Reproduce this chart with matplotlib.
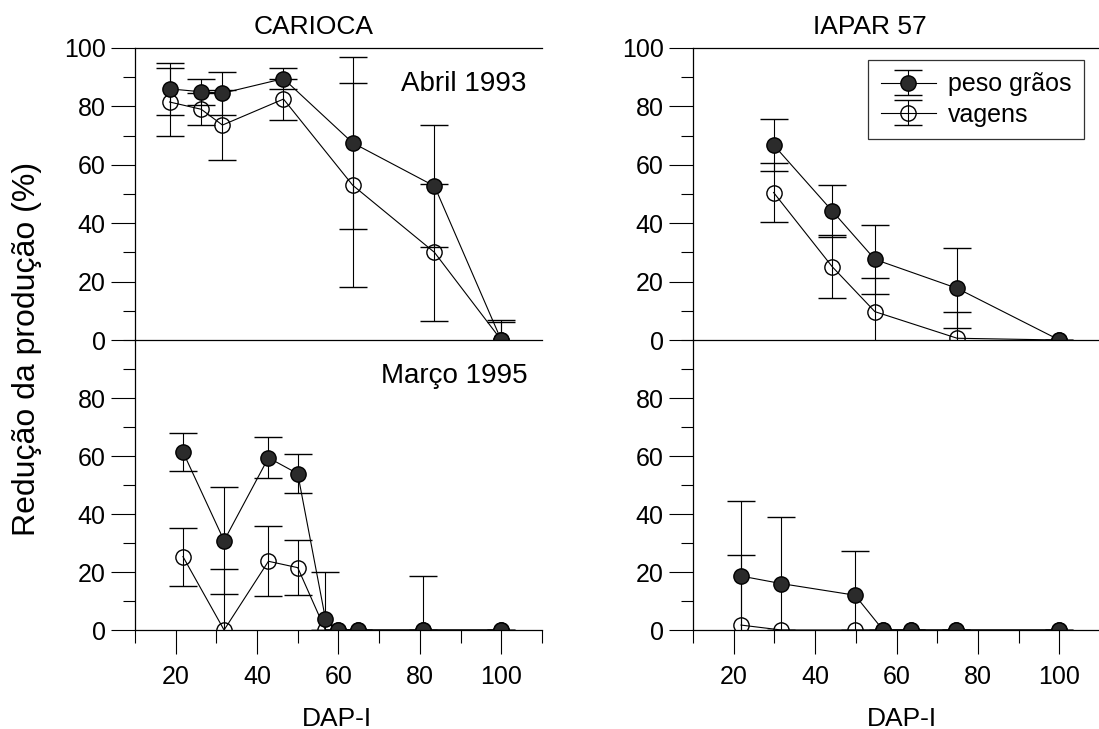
import matplotlib
matplotlib.use("Agg")
import matplotlib.pyplot as plt
from matplotlib.ticker import FixedLocator, MultipleLocator

plt.rcParams['font.family'] = ['Liberation Sans', 'DejaVu Sans']

# --- Dados: CARIOCA, Abril 1993 ---
x_car93 = [18.5, 26.3, 31.5, 46.5, 63.5, 83.6, 100]
peso_car93 = [86, 85, 84.5, 89.5, 67.5, 52.7, 0]
peso_car93_err = [9, 4.5, 7.3, 3.7, 29.5, 21, 7]
vag_car93 = [81.5, 79, 73.6, 82.5, 53, 30, 0]
vag_car93_err = [11.5, 5.5, 12, 7, 35, 23.5, 6]

# --- Dados: CARIOCA, Março 1995 ---
x_car95 = [21.8, 31.9, 42.8, 50, 56.8, 59.8, 64.7, 80.9, 100]
peso_car95 = [61.4, 30.8, 59.4, 53.9, 3.9, 0, 0, 0, 0]
peso_car95_err = [6.7, 18.5, 7, 6.8, 16, 0, 0, 18.5, 0]
vag_car95 = [25.3, 0, 23.7, 21.5, 0, 0, 0, 0, 0]
vag_car95_err = [10, 21, 12, 9.4, 0, 0, 0, 0, 0]

# --- Dados: IAPAR 57, Abril 1993 ---
x_iap93 = [29.8, 44.2, 54.7, 74.9, 100]
peso_iap93 = [66.8, 44.2, 27.6, 17.7, 0]
peso_iap93_err = [8.8, 8.8, 11.8, 13.7, 0]
vag_iap93 = [50.5, 25.1, 9.7, 0.6, 0]
vag_iap93_err = [10, 10.8, 11.5, 9, 0]

# --- Dados: IAPAR 57, Março 1995 ---
x_iap95 = [21.8, 31.7, 49.8, 56.7, 63.5, 74.7, 100]
peso_iap95 = [18.6, 16, 12, 0, 0, 0, 0]
peso_iap95_err = [25.9, 23, 15.4, 0, 0, 0, 0]
vag_iap95 = [1.7, 0, 0, 0, 0, 0, 0]
vag_iap95_err = [24, 0, 0, 0, 0, 0, 0]

x_major = [20, 40, 60, 80, 100]
x_minor = [10, 30, 50, 70, 90, 110]


def draw_series(ax, x, peso, peso_err, vag, vag_err):
    # vagens primeiro, peso grãos por cima
    common = dict(fmt='o', ls='-', color='black', lw=0.8, elinewidth=0.8,
                  capsize=10, capthick=0.8, ms=11, mew=1.0, mec='black')
    hv = ax.errorbar(x, vag, yerr=vag_err, mfc='none', label='vagens', **common)
    hp = ax.errorbar(x, peso, yerr=peso_err, mfc='#2b2b2b', label='peso grãos', **common)
    return hp, hv


def style_axes(ax, top):
    ax.set_xlim(10, 110)
    ax.set_ylim(0, 100)
    ax.patch.set_visible(False)
    ax.spines['right'].set_visible(False)
    for s in ax.spines.values():
        s.set_linewidth(0.9)
    ax.xaxis.set_major_locator(FixedLocator(x_major))
    ax.xaxis.set_minor_locator(FixedLocator(x_minor))
    ax.yaxis.set_minor_locator(MultipleLocator(10))
    ax.tick_params(which='major', direction='out', length=17, width=0.8,
                   labelsize=18, pad=4)
    ax.tick_params(which='minor', direction='out', length=9, width=0.8)
    ax.tick_params(axis='x', which='major', pad=8)
    if top:
        ax.yaxis.set_major_locator(MultipleLocator(20))
        ax.tick_params(axis='x', which='both', bottom=False, labelbottom=False)
    else:
        ax.yaxis.set_major_locator(FixedLocator([0, 20, 40, 60, 80]))
        ax.spines['top'].set_visible(False)


fig = plt.figure(figsize=(10.99, 7.29), dpi=100)

L, R, W = 0.1228, 0.6306, 0.3703
ax_tl = fig.add_axes([L, 0.5336, W, 0.4006])
ax_bl = fig.add_axes([L, 0.1358, W, 0.3978])
ax_tr = fig.add_axes([R, 0.5336, W, 0.4006])
ax_br = fig.add_axes([R, 0.1358, W, 0.3978])

draw_series(ax_tl, x_car93, peso_car93, peso_car93_err, vag_car93, vag_car93_err)
draw_series(ax_bl, x_car95, peso_car95, peso_car95_err, vag_car95, vag_car95_err)
hp, hv = draw_series(ax_tr, x_iap93, peso_iap93, peso_iap93_err, vag_iap93, vag_iap93_err)
draw_series(ax_br, x_iap95, peso_iap95, peso_iap95_err, vag_iap95, vag_iap95_err)

for ax, top in [(ax_tl, True), (ax_bl, False), (ax_tr, True), (ax_br, False)]:
    style_axes(ax, top)

# --- Textos ---
ax_tl.text(0.963, 0.853, 'Abril 1993', transform=ax_tl.transAxes,
           ha='right', va='baseline', fontsize=20)
ax_bl.text(0.966, 0.852, 'Março 1995', transform=ax_bl.transAxes,
           ha='right', va='baseline', fontsize=20)

fig.text(0.2857, 0.9534, 'CARIOCA', ha='center', va='baseline', fontsize=19)
fig.text(0.7916, 0.9534, 'IAPAR 57', ha='center', va='baseline', fontsize=19)
fig.text(0.0246, 0.522, 'Redução da produção (%)', rotation=90,
         ha='center', va='center', fontsize=23)
fig.text(0.307, 0.004, 'DAP-I', ha='center', va='baseline', fontsize=19)
fig.text(0.821, 0.004, 'DAP-I', ha='center', va='baseline', fontsize=19)

# --- Legenda ---
leg = ax_tr.legend([hp, hv], ['peso grãos', 'vagens'], loc='upper right',
                   bbox_to_anchor=(0.961, 0.959), borderaxespad=0,
                   fontsize=18, handlelength=2.2, handletextpad=0.5,
                   labelspacing=0.25, borderpad=0.5, fancybox=False)
leg.get_frame().set_edgecolor('black')
leg.get_frame().set_linewidth(0.9)

fig.savefig('out.png', dpi=100)
plt.close(fig)
